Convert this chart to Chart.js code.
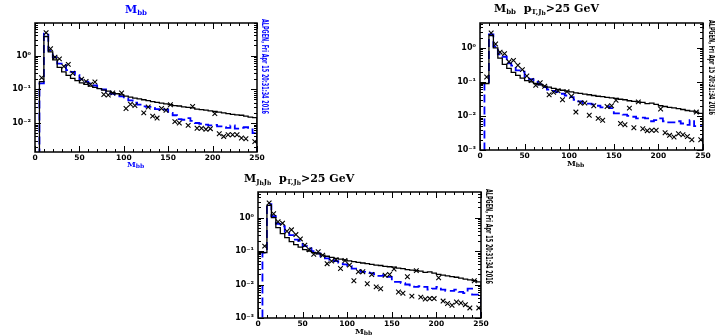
<!DOCTYPE html>
<html>
<head>
<meta charset="utf-8">
<script src="https://cdn.jsdelivr.net/npm/chart.js@4.4.1/dist/chart.umd.min.js"></script>
<style>
  body { margin: 0; background: #fff; width: 715px; height: 335px; position: relative; overflow: hidden; }
  canvas { position: absolute; }
  .ttl { position: absolute; white-space: nowrap; font: bold 11px "DejaVu Serif", serif; color: #000; }
  .ttl sub { font-size: 7px; vertical-align: -2px; }
  .ttl sub sub { font-size: 6px; vertical-align: -1px; }
  .xlab { position: absolute; white-space: nowrap; font: bold 8px "DejaVu Serif", serif; }
  .xlab sub { font-size: 6px; vertical-align: -1px; }
  .stamp { position: absolute; white-space: nowrap; font: bold 8px "DejaVu Sans Condensed", "DejaVu Sans", sans-serif;
           line-height: 8px; transform-origin: left top; }
</style>
</head>
<body>
<canvas id="c1" width="270" height="172" style="left:0px;top:0px"></canvas>
<canvas id="c2" width="270" height="172" style="left:445px;top:0px"></canvas>
<canvas id="c3" width="272" height="165" style="left:223px;top:170px"></canvas>

<div class="ttl" style="left:125px;top:3px;color:#0000ff">M<sub>bb</sub></div>
<div class="ttl" style="left:494px;top:2px">M<sub>bb</sub>&nbsp; p<sub>T,J<sub>b</sub></sub>&gt;25 GeV</div>
<div class="ttl" style="left:244px;top:172px">M<sub>J<sub>b</sub>J<sub>b</sub></sub>&nbsp; p<sub>T,J<sub>b</sub></sub>&gt;25 GeV</div>

<div class="xlab" style="left:127px;top:159px;color:#0000ff">M<sub>bb</sub></div>
<div class="xlab" style="left:567px;top:158px">M<sub>bb</sub></div>
<div class="xlab" style="left:355px;top:326px">M<sub>bb</sub></div>

<div class="stamp" id="s1" style="left:268px;top:19px;color:#0000ff">ALPGEN, Fri Apr 15 20:31:34 2016</div>
<div class="stamp" id="s2" style="left:715px;top:20px">ALPGEN, Fri Apr 15 20:31:34 2016</div>
<div class="stamp" id="s3" style="left:492px;top:189px">ALPGEN, Fri Apr 15 20:31:34 2016</div>

<script>
// bins of 5 GeV, lower edges
const binLo = [0,5,10,15,20,25,30,35,40,45,50,55,60,65,70,75,80,85,90,95,100,105,110,115,120,125,130,135,140,145,150,155,160,165,170,175,180,185,190,195,200,205,210,215,220,225,230,235,240,245];
const binHi = 250;

// M_bb (no cut)
const m1Solid = [0,0.17,3.7,1.3,0.75,0.45,0.33,0.26,0.21,0.18,
  0.155,0.14,0.125,0.115,0.105,0.095,0.088,0.08,0.074,0.068,
  0.063,0.059,0.055,0.052,0.049,0.046,0.043,0.041,0.039,0.037,
  0.035,0.033,0.032,0.03,0.029,0.028,0.026,0.025,0.024,0.023,
  0.022,0.021,0.02,0.019,0.018,0.0175,0.017,0.016,0.015,0.0145];
const m1Dash = [0,0.15,4.5,1.4,0.9,0.58,0.52,0.37,0.33,0.27,
  0.2,0.17,0.15,0.13,0.11,0.1,0.085,0.074,0.07,0.062,
  0.053,0.047,0.04,0.035,0.031,0.03,0.028,0.026,0.024,0.025,
  0.02,0.017,0.013,0.0125,0.014,0.0115,0.01,0.0095,0.009,0.0085,
  0.0088,0.008,0.0075,0.0072,0.0085,0.0068,0.0072,0.0075,0.0065,0.005];
const m1Cross = [null,0.22,4.8,1.6,0.9,0.8,0.48,0.55,0.3,null,
  0.2,0.17,0.14,0.165,null,0.07,0.068,0.078,null,0.078,
  0.027,0.036,0.033,null,0.02,0.03,0.016,0.014,0.027,0.024,
  0.035,0.011,0.01,null,0.0085,0.031,0.007,0.007,0.0065,0.0068,
  0.019,0.0048,0.004,0.0045,0.0045,0.0045,0.0036,0.0034,null,0.0028];

// M_bb with pT,Jb > 25 GeV
const m2Solid = [0.09,0.09,2.3,1.0,0.5,0.33,0.25,0.19,0.155,0.13,
  0.11,0.1,0.09,0.082,0.075,0.07,0.065,0.06,0.057,0.054,
  0.051,0.048,0.046,0.044,0.042,0.04,0.038,0.037,0.035,0.034,
  0.033,0.031,0.03,0.028,0.027,0.026,0.025,0.023,0.024,0.022,
  0.02,0.019,0.018,0.0172,0.0165,0.0155,0.0145,0.0138,0.013,0.012];
const m2Dash = [0,0.09,2.5,1.1,0.65,0.55,0.35,0.3,0.22,0.2,
  0.14,0.12,0.1,0.085,0.07,0.06,0.055,0.05,0.045,0.04,
  0.036,0.03,0.027,0.024,0.023,0.022,0.02,0.018,0.019,0.017,
  0.012,0.012,0.011,0.01,0.0095,0.0085,0.009,0.0085,0.007,0.0075,
  0.0085,0.007,0.0065,0.0065,0.007,0.006,0.0055,0.0075,0.005,0.005];
const m2Cross = [null,0.14,2.75,1.3,0.75,0.68,0.39,0.43,0.31,0.23,
  0.15,0.11,0.08,0.095,0.075,0.042,0.05,0.055,0.03,0.052,
  0.038,0.013,0.024,0.024,0.0105,0.02,0.0085,0.0075,0.019,0.02,
  0.029,0.006,0.0055,0.017,0.0045,0.026,0.0042,0.0037,0.0038,0.0038,
  0.016,0.0032,0.0027,0.0024,0.003,0.0028,0.0025,0.002,0.013,0.002];

// M_JbJb with pT,Jb > 25 GeV (same shapes as above within reading precision)
const m3Solid = m2Solid;
const m3Dash = m2Dash;
const m3Cross = m2Cross;

const floorVal = 1e-5;

function stepPoints(vals) {
  let pts = [{x: binLo[0], y: floorVal}];
  vals.forEach((v, i) => {
    pts.push({x: binLo[i], y: v > 0 ? v : floorVal});
  });
  pts.push({x: binHi, y: vals[vals.length - 1]});
  pts.push({x: binHi, y: floorVal});
  return pts;
}

function crossPoints(vals) {
  let pts = [];
  vals.forEach((v, i) => {
    if (v != null) pts.push({x: binLo[i] + 2.5, y: v});
  });
  return pts;
}

const sup = {'-': '\u207B', '0': '\u2070', '1': '\u00B9', '2': '\u00B2', '3': '\u00B3'};

// frame + inside ticks like the old topdrawer plots
const frameTicks = {
  id: 'frameTicks',
  afterDatasetsDraw(chart) {
    const c = chart.ctx;
    const a = chart.chartArea;
    const xs = chart.scales.x;
    const ys = chart.scales.y;
    c.save();
    c.strokeStyle = '#000';
    c.lineWidth = 1;
    c.beginPath();
    for (let v = 0; v <= 250; v += 10) {
      let px = Math.round(xs.getPixelForValue(v)) + 0.5;
      let len = v % 50 == 0 ? 6 : 3;
      c.moveTo(px, a.bottom); c.lineTo(px, a.bottom - len);
      c.moveTo(px, a.top); c.lineTo(px, a.top + len);
    }
    for (let d = -4; d <= 1; d++) {
      for (let m = 1; m <= 9; m++) {
        let v = m * Math.pow(10, d);
        if (v < ys.min || v > ys.max) continue;
        let py = Math.round(ys.getPixelForValue(v)) + 0.5;
        let len = m == 1 ? 6 : 3;
        c.moveTo(a.left, py); c.lineTo(a.left + len, py);
        c.moveTo(a.right, py); c.lineTo(a.right - len, py);
      }
    }
    c.stroke();
    c.lineWidth = 1.5;
    c.strokeRect(a.left, a.top, a.right - a.left, a.bottom - a.top);
    c.restore();
  }
};

function makePanel(id, solid, dash, cross, yMin, yMax, pad, xH) {
  const ctx = document.getElementById(id);
  return new Chart(ctx, {
    type: 'line',
    data: {
      datasets: [
        {
          data: crossPoints(cross),
          showLine: false,
          pointStyle: 'crossRot',
          pointRadius: 3.3,
          borderColor: '#000',
          borderWidth: 1.1
        },
        {
          data: stepPoints(solid),
          stepped: 'before',
          borderColor: '#000',
          borderWidth: 1.3,
          pointRadius: 0,
          fill: false
        },
        {
          data: stepPoints(dash),
          stepped: 'before',
          borderColor: '#0000ff',
          borderWidth: 1.8,
          borderDash: [8, 4],
          pointRadius: 0,
          fill: false
        }
      ]
    },
    options: {
      responsive: false,
      animation: false,
      devicePixelRatio: 1,
      layout: { padding: pad },
      plugins: { legend: { display: false }, tooltip: { enabled: false } },
      scales: {
        x: {
          type: 'linear',
          min: 0,
          max: 250,
          grid: { display: false, drawTicks: false },
          border: { display: false },
          afterFit: (s) => { s.height = xH },
          ticks: {
            stepSize: 50,
            autoSkip: false,
            maxRotation: 0,
            padding: 2,
            color: '#000',
            font: { family: 'DejaVu Sans', size: 7.5, weight: 'bold' }
          }
        },
        y: {
          type: 'logarithmic',
          min: yMin,
          max: yMax,
          grid: { display: false, drawTicks: false },
          border: { display: false },
          afterFit: (s) => { s.width = 35 },
          afterBuildTicks: (s) => {
            let t = [];
            for (let d = -3; d <= 0; d++) {
              let v = Math.pow(10, d);
              if (v >= s.min * 0.999 && v <= s.max) t.push({value: v});
            }
            s.ticks = t;
          },
          ticks: {
            padding: 4,
            color: '#000',
            font: { family: 'DejaVu Sans', size: 8, weight: 'bold' },
            callback: (v) => {
              let e = String(Math.round(Math.log10(v)));
              return '10' + e.split('').map(ch => sup[ch]).join('');
            }
          }
        }
      }
    },
    plugins: [frameTicks]
  });
}

makePanel('c1', m1Solid, m1Dash, m1Cross, 0.00138, 9.3, {top: 23, right: 13, left: 0, bottom: 0}, 20);
makePanel('c2', m2Solid, m2Dash, m2Cross, 0.001, 5.4, {top: 23, right: 12, left: 0, bottom: 0}, 22);
makePanel('c3', m3Solid, m3Dash, m3Cross, 0.001, 5.8, {top: 22, right: 14, left: 0, bottom: 0}, 17);

// squeeze the rotated date stamps to the length seen in the plot
['s1', 's2', 's3'].forEach((id) => {
  let el = document.getElementById(id);
  let w = el.offsetWidth;
  el.style.transform = 'rotate(90deg) scaleX(' + (95 / w) + ')';
});
</script>
</body>
</html>
